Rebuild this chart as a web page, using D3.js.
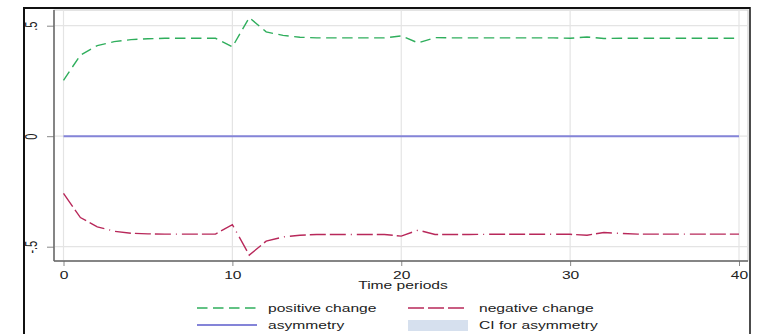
<!DOCTYPE html>
<html>
<head>
<meta charset="utf-8">
<script src="https://cdn.jsdelivr.net/npm/d3@7"></script>
<style>
  body { margin: 0; background: #fff; }
  svg { display: block; font-family: "Liberation Sans", Arial, sans-serif; }
</style>
</head>
<body>
<svg id="chart" width="759" height="334"></svg>
<script>
// time periods 0..40
const periods = d3.range(0, 41);

const positive_change = [
  0.253, 0.367, 0.41, 0.428, 0.437, 0.441, 0.443, 0.443, 0.443, 0.443,
  0.404, 0.537, 0.472, 0.456, 0.448, 0.445, 0.445, 0.445, 0.445, 0.445,
  0.454, 0.422, 0.446, 0.445, 0.445, 0.445, 0.445, 0.445, 0.445, 0.445,
  0.443, 0.449, 0.442, 0.443, 0.443, 0.443, 0.443, 0.443, 0.443, 0.443, 0.443
];

const negative_change = [
  -0.259, -0.368, -0.41, -0.43, -0.439, -0.442, -0.443, -0.443, -0.443, -0.443,
  -0.40, -0.538, -0.475, -0.456, -0.448, -0.445, -0.445, -0.445, -0.445, -0.445,
  -0.452, -0.425, -0.445, -0.445, -0.445, -0.444, -0.444, -0.444, -0.444, -0.444,
  -0.444, -0.448, -0.436, -0.44, -0.443, -0.443, -0.443, -0.443, -0.443, -0.443, -0.443
];

const asymmetry = periods.map(() => 0);

const x_ticks = [0, 10, 20, 30, 40];
const y_ticks = [-0.5, 0, 0.5];
const y_tick_labels = ["-.5", "0", ".5"];

const legend_items = [
  {name: "positive change", kind: "pos"},
  {name: "negative change", kind: "neg"},
  {name: "asymmetry", kind: "asym"},
  {name: "CI for asymmetry", kind: "ci"}
];

const colors = {pos: "#2fae5c", neg: "#b8285a", asym: "#8484d8", ci: "#d6e0ee"};
const dashes = {pos: "10.5,5.5", neg: "16,4,16,4,16,5,1,5", asym: null};

// the picture is stretched sideways, so text is too
const stretch = 1.42;
const font_size = "11px";

let svg = d3.select("#chart");

function stretched_text(parent, str, tx, ty, anchor) {
  return parent.append("text").text(str)
    .attr("transform", `translate(${tx},${ty}) scale(${stretch},1)`)
    .style("text-anchor", anchor)
    .style("font-size", font_size).style("fill", "#222");
}

// outer frame
svg.append("line").attr("x1", 24).attr("y1", 8).attr("x2", 750).attr("y2", 8)
  .style("stroke", "#111").style("stroke-width", 2);
svg.append("line").attr("x1", 24).attr("y1", 7).attr("x2", 24).attr("y2", 334)
  .style("stroke", "#111").style("stroke-width", 2);
svg.append("line").attr("x1", 750).attr("y1", 7).attr("x2", 750).attr("y2", 334)
  .style("stroke", "#111").style("stroke-width", 1.5);

let plot = {left: 54, right: 748, top: 10, bottom: 261};

let x = d3.scaleLinear().domain([0, 40]).range([63.5, 739]);
let y = d3.scaleLinear().domain([-0.5, 0.5]).range([246.7, 25.7]);

// plot box (light right/top)
svg.append("rect")
  .attr("x", plot.left).attr("y", plot.top)
  .attr("width", plot.right - plot.left).attr("height", plot.bottom - plot.top)
  .style("fill", "#fff").style("stroke", "#c8c8c8").style("stroke-width", 1);

// grid lines
svg.append("g").selectAll("line").data(x_ticks).join("line")
  .attr("x1", (d) => x(d)).attr("x2", (d) => x(d))
  .attr("y1", plot.top).attr("y2", plot.bottom)
  .style("stroke", "#e4e4e4").style("stroke-width", 1.2);
svg.append("g").selectAll("line").data(y_ticks).join("line")
  .attr("x1", plot.left).attr("x2", plot.right)
  .attr("y1", (d) => y(d)).attr("y2", (d) => y(d))
  .style("stroke", "#e4e4e4").style("stroke-width", 1.2);

// axes
let x_axis = d3.axisBottom(x).tickValues(x_ticks).tickSize(5).tickFormat(() => "");
let gx = svg.append("g").attr("transform", `translate(0,${plot.bottom})`).call(x_axis);
gx.select(".domain").remove();
gx.selectAll(".tick line").style("stroke", "#888");
gx.selectAll(".tick text").remove();
gx.selectAll(".tick").each(function (d) {
  stretched_text(d3.select(this), d3.format("d")(d), 0, 17.5, "middle");
});

let y_axis = d3.axisLeft(y).tickValues(y_ticks).tickSize(7).tickFormat(() => "");
let gy = svg.append("g").attr("transform", `translate(${plot.left},0)`).call(y_axis);
gy.select(".domain").remove();
gy.selectAll(".tick line").style("stroke", "#888");
gy.selectAll(".tick text").remove();
gy.selectAll(".tick").each(function (d, i) {
  d3.select(this).append("text").text(y_tick_labels[i])
    .attr("transform", `translate(-17,0) rotate(-90) scale(1,${stretch})`)
    .style("text-anchor", "middle")
    .style("font-size", font_size).style("fill", "#222");
});

// axis lines
svg.append("line").attr("x1", plot.left).attr("x2", plot.left)
  .attr("y1", plot.top).attr("y2", plot.bottom)
  .style("stroke", "#666").style("stroke-width", 1.5);
svg.append("line").attr("x1", plot.left).attr("x2", plot.right)
  .attr("y1", plot.bottom).attr("y2", plot.bottom)
  .style("stroke", "#666").style("stroke-width", 1.5);

// series
let line = d3.line().x((d, i) => x(periods[i])).y((d) => y(d));
function draw_series(values, kind) {
  svg.append("path").datum(values)
    .attr("d", line)
    .style("fill", "none")
    .style("stroke", colors[kind])
    .style("stroke-width", kind == "asym" ? 2 : 1.4)
    .style("stroke-dasharray", dashes[kind]);
}
draw_series(asymmetry, "asym");
draw_series(positive_change, "pos");
draw_series(negative_change, "neg");

// x title
stretched_text(svg, "Time periods", 403, 289, "middle");

// legend
let legend_cols = [197, 408];
let legend_rows = [308, 325];
legend_items.forEach((item, i) => {
  let lx = legend_cols[i % 2];
  let ly = legend_rows[Math.floor(i / 2)];
  if (item.kind == "ci") {
    svg.append("rect").attr("x", lx).attr("y", ly - 5).attr("width", 60).attr("height", 11)
      .style("fill", colors.ci);
  } else {
    svg.append("line").attr("x1", lx).attr("x2", lx + 60).attr("y1", ly).attr("y2", ly)
      .style("stroke", colors[item.kind])
      .style("stroke-width", item.kind == "asym" ? 2 : 1.4)
      .style("stroke-dasharray", dashes[item.kind]);
  }
  stretched_text(svg, item.name, lx + 71, ly + 4, "start");
});
</script>
</body>
</html>
